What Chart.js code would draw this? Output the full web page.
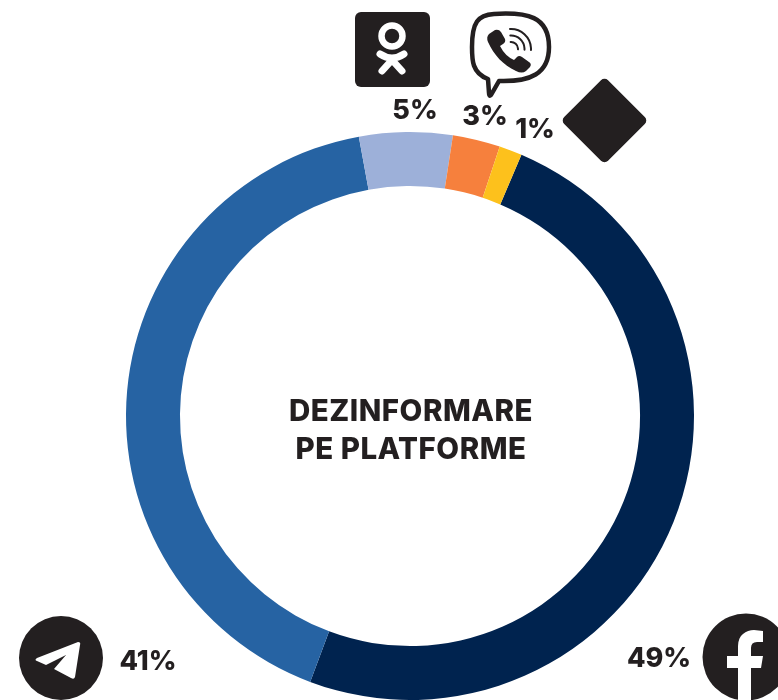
<!DOCTYPE html>
<html><head><meta charset="utf-8">
<style>html,body{margin:0;padding:0;background:#fff;overflow:hidden}canvas{display:block}</style>
<script src="https://cdn.jsdelivr.net/npm/chart.js@4"></script></head>
<body><canvas id="c" width="778" height="700"></canvas>
<script>
const platforms=["Facebook","Telegram","Odnoklassniki","Viber","Altele"];
const shares=[49.3,41.4,5.3,2.7,1.3];
const colors=["#00234f","#2663a3","#9db0d9","#f6803d","#fdc11c"];
const centerLines=["DEZINFORMARE","PE PLATFORME"];
const INK="#231f20";
const FONT='800 27px "Inter","Liberation Sans",sans-serif';
const CENTER_FONT='800 29.5px "Inter","Liberation Sans",sans-serif';

function rr(x,y,w,h,r,c){c.beginPath();c.roundRect(x,y,w,h,r);c.fill();}
function drawOK(c){
  c.fillStyle=INK;rr(355,12,75,75,6,c);
  c.strokeStyle="#fff";c.lineCap="round";
  c.lineWidth=6.5;c.beginPath();c.arc(392,36,10.5,0,Math.PI*2);c.stroke();
  c.lineWidth=7;c.beginPath();c.moveTo(380,54);c.quadraticCurveTo(392,62,404,54);c.stroke();
  c.beginPath();c.moveTo(382,71);c.lineTo(392,60);c.lineTo(402,71);c.stroke();
}
function drawViber(c){
  c.strokeStyle=INK;c.lineWidth=4.5;c.lineJoin="round";c.lineCap="round";
  c.beginPath();c.moveTo(494,14);
  c.bezierCurveTo(527,12,549,16,549,47);
  c.bezierCurveTo(549,74,530,82,499,81);
  c.lineTo(491,95);c.quadraticCurveTo(489,97,489,93);c.lineTo(488,79);
  c.bezierCurveTo(472,73,472,60,472,47);
  c.bezierCurveTo(472,22,478,15,494,14);c.closePath();c.stroke();
  c.fillStyle=INK;
  c.beginPath();c.moveTo(489,34);c.lineTo(495,30);c.quadraticCurveTo(499,29,501,32);c.lineTo(505,39);
  c.quadraticCurveTo(506,42,503,44);c.lineTo(500,46);c.quadraticCurveTo(505,56,514,60);
  c.lineTo(517,57);c.quadraticCurveTo(519,55,522,57);c.lineTo(529,62);c.quadraticCurveTo(532,64,530,67);
  c.lineTo(526,71);c.quadraticCurveTo(522,74,516,71);c.bezierCurveTo(503,65,494,55,488,42);
  c.quadraticCurveTo(486,37,489,34);c.closePath();c.fill();
  c.lineWidth=2;
  [7,13.5,20].forEach(r=>{c.beginPath();c.arc(511,49,r,-Math.PI/2-0.05,0.05);c.stroke();});
}
function drawDiamond(c){
  c.save();c.translate(604.5,120.5);c.rotate(Math.PI/4);c.fillStyle=INK;
  rr(-31,-31,62,62,5,c);c.restore();
}
function drawTelegram(c){
  c.fillStyle=INK;c.beginPath();c.arc(61,658,42,0,Math.PI*2);c.fill();
  c.fillStyle="#fff";c.beginPath();
  c.moveTo(78,642);c.quadraticCurveTo(81,642,80,645);c.lineTo(75,677);c.quadraticCurveTo(74,680,71,678);
  c.lineTo(54,669);c.lineTo(66,655);c.lineTo(46,665);c.lineTo(37,661);
  c.quadraticCurveTo(34,660,37,658);c.closePath();c.fill();
}
function drawFacebook(c){
  c.fillStyle=INK;c.beginPath();c.arc(746,657,43.5,0,Math.PI*2);c.fill();
  c.fillStyle="#fff";c.beginPath();
  c.moveTo(738,702);c.lineTo(738,668);c.lineTo(727,668);c.lineTo(727,656);c.lineTo(738,656);
  c.lineTo(738,646);c.bezierCurveTo(738,635,746,630,754,630);c.lineTo(763,631);c.lineTo(763,642);
  c.lineTo(757,642);c.quadraticCurveTo(751,642,751,648);c.lineTo(751,656);c.lineTo(763,656);
  c.lineTo(761,668);c.lineTo(751,668);c.lineTo(751,702);c.closePath();c.fill();
}
const pct=v=>Math.round(v)+"%";
const overlay={id:"overlay",afterDraw(chart){
  const c=chart.ctx;c.save();
  drawOK(c);drawViber(c);drawDiamond(c);drawTelegram(c);drawFacebook(c);
  c.fillStyle=INK;c.textAlign="center";c.textBaseline="middle";
  const m=chart.getDatasetMeta(0).data[0];
  c.font=CENTER_FONT;
  c.letterSpacing="0.5px";
  c.fillText(centerLines[0],m.x+1,412);
  c.fillText(centerLines[1],m.x+1,450);
  c.letterSpacing="0px";
  c.font=FONT;
  const anchors=[[659,659],[148,662],[415,111],[485,117],[535,130]];
  shares.forEach((v,i)=>c.fillText(pct(v),anchors[i][0],anchors[i][1]));
  c.restore();
}};
new Chart(document.getElementById("c"),{
  type:"doughnut",
  data:{labels:platforms,datasets:[{data:shares,backgroundColor:colors,borderWidth:0,hoverOffset:0}]},
  options:{responsive:false,animation:false,rotation:23.1,cutout:"81%",
    layout:{padding:{left:126,right:84,top:132,bottom:0}},
    plugins:{legend:{display:false},tooltip:{enabled:false}}},
  plugins:[overlay]
});
</script></body></html>
